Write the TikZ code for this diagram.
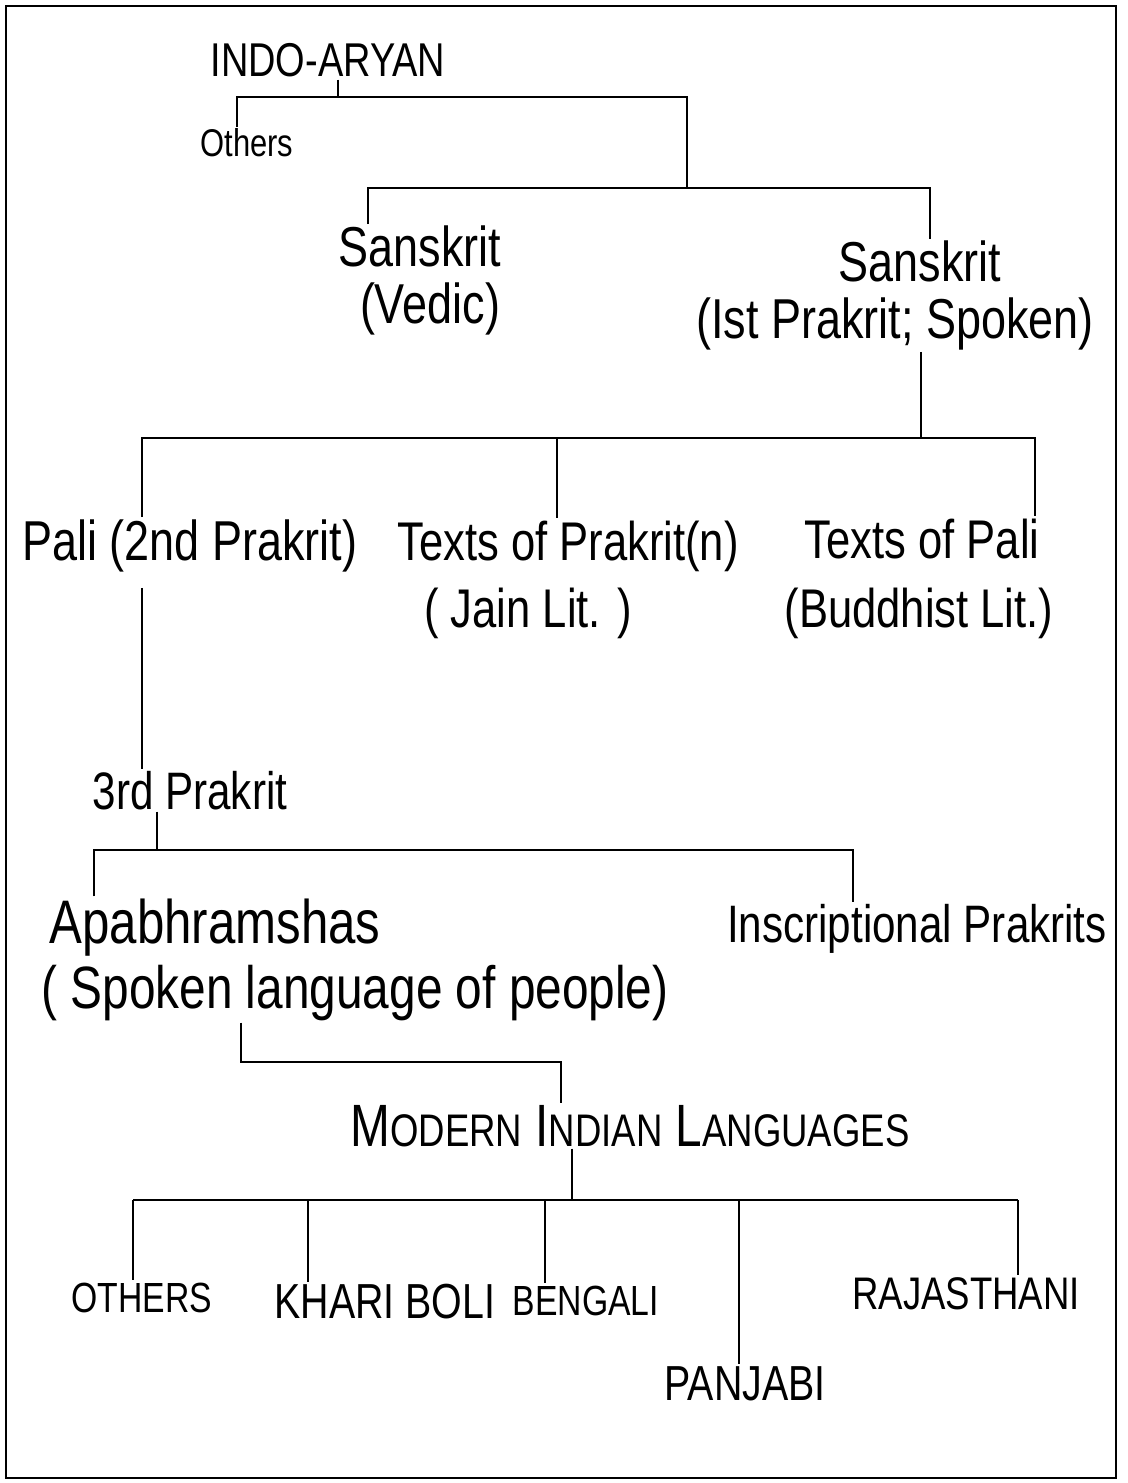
\documentclass[tikz,border=0pt]{standalone}
\usepackage{fontspec}
\setmainfont{Liberation Sans}[FakeStretch=0.8]
\usetikzlibrary{positioning}

\tikzset{
  branch/.style={line width=1.1pt},
  lbl/.style={inner sep=1pt, anchor=base, font=\fontsize{#1}{#1}\selectfont},
}

\begin{document}
\begin{tikzpicture}[x=0.02cm, y=-0.02cm]
\useasboundingbox (0,0) rectangle (1128,1483);
\draw[branch] (6,6) rectangle (1116,1478);

% top of the tree
\node[lbl=27] (indo) at (328,77) {INDO-ARYAN};
\node[lbl=22] (others) at (247,157) {Others};
\node[lbl=32] (sanv) at (420,267) {Sanskrit};
\node[lbl=32] (sanvb) at (430,323) {(Vedic)};
\node[lbl=32] (sanp) at (920,282) {Sanskrit};
\node[lbl=32] (sanpb) at (895,338) {(Ist Prakrit; Spoken)};

\coordinate (b1m) at (338,97);
\coordinate (b1l) at (237,97);
\coordinate (b1r) at (687,97);
\coordinate (b2l) at (368,188);
\coordinate (b2r) at (930,188);
\draw[branch] (b1m |- indo.south) -- (b1m);
\draw[branch] (b1l |- others.north) -- (b1l) -- (b1r) -- (b1r |- b2l);
\draw[branch] (b2l |- sanv.north) -- (b2l) -- (b2r) -- (b2r |- sanp.north);

% prakrits
\node[lbl=32] (pali) at (190,560) {Pali (2nd Prakrit)};
\node[lbl=31] (tprak) at (568,560) {Texts of Prakrit(n)};
\node[lbl=31] (tprakb) at (528,627) {( Jain Lit. )};
\node[lbl=31] (tpali) at (922,558) {Texts of Pali};
\node[lbl=31] (tpalib) at (919,627) {(Buddhist Lit.)};

\coordinate (b3t) at (921,438);
\coordinate (b3l) at (142,438);
\coordinate (b3m) at (557,438);
\coordinate (b3r) at (1035,438);
\draw[branch] (b3t |- sanpb.south) -- (b3t);
\draw[branch] (b3l |- pali.north) -- (b3l) -- (b3r) -- (b3r |- tpali.north);
\draw[branch] (b3m) -- (b3m |- tprak.north);

\node[lbl=30] (third) at (190,809) {3rd Prakrit};
\draw[branch, shorten <=8pt] (b3l |- pali.south) -- (b3l |- third.north);

\node[lbl=35] (apa) at (215,943) {Apabhramshas};
\node[lbl=34] (apab) at (355,1008) {( Spoken language of people)};
\node[lbl=30] (insc) at (917,942) {Inscriptional Prakrits};

\coordinate (b4m) at (157,850);
\coordinate (b4l) at (94,850);
\coordinate (b4r) at (853,850);
\draw[branch] (b4m |- third.south) -- (b4m);
\draw[branch] (b4l |- apa.north) -- (b4l) -- (b4r) -- (b4r |- insc.north);

% modern languages
\node[lbl=34] (mil) at (630,1146) {M{\fontsize{26}{26}\selectfont ODERN} I{\fontsize{26}{26}\selectfont NDIAN} L{\fontsize{26}{26}\selectfont ANGUAGES}};

\coordinate (b5a) at (241,1062);
\coordinate (b5b) at (561,1062);
\draw[branch] (b5a |- apab.south) -- (b5a) -- (b5b) -- (b5b |- mil.north);

\node[lbl=24] (o2) at (142,1312) {OTHERS};
\node[lbl=28] (khari) at (385,1318) {KHARI BOLI};
\node[lbl=24] (beng) at (586,1315) {BENGALI};
\node[lbl=28] (panj) at (745,1400) {PANJABI};
\node[lbl=26] (raja) at (966,1309) {RAJASTHANI};

\coordinate (b6m) at (572,1200);
\draw[branch] (b6m |- mil.south) -- (b6m);
\foreach \n/\x in {o2/133, khari/308, beng/545, panj/739, raja/1018}
  \coordinate (d\n) at (\x,1200);
\draw[branch] (do2) -- (draja);
\foreach \n in {o2, khari, beng, panj, raja}
  \draw[branch] (d\n) -- (d\n |- \n.north);

\end{tikzpicture}
\end{document}
